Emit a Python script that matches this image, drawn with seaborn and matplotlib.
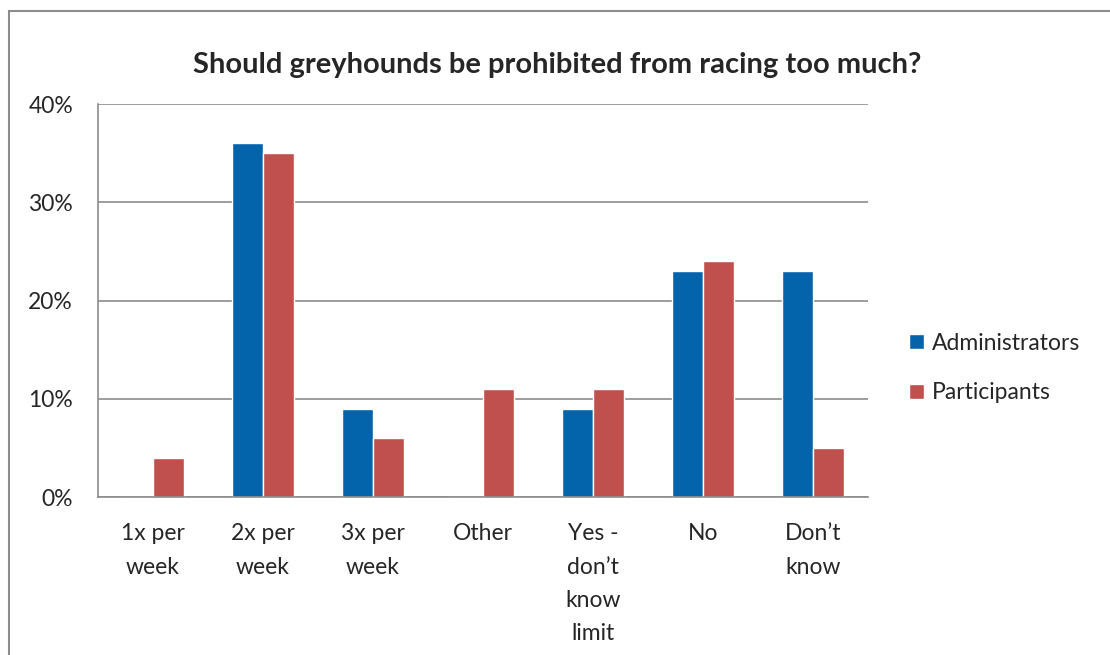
import matplotlib.pyplot as plt
import seaborn as sns
import numpy as np
import pandas as pd
from matplotlib.patches import Rectangle
from matplotlib.ticker import PercentFormatter

# Respuestas por grupo, en porcentaje

categorias = ["1x per\nweek", "2x per\nweek", "3x per\nweek", "Other",
              "Yes -\ndon\u2019t\nknow\nlimit", "No", "Don\u2019t\nknow"]
administradores = [0, 36, 9, 0, 9, 23, 23]
participantes = [4, 35, 6, 11, 11, 24, 5]
grupos = ["Administrators", "Participants"]
colores = ["#0364AC", "#C0504D"]

df = pd.DataFrame({
    "categoria": categorias * 2,
    "valor": administradores + participantes,
    "grupo": [grupos[0]] * len(categorias) + [grupos[1]] * len(categorias),
})

sns.set_style("white")
plt.rcParams["font.family"] = ["Lato", "DejaVu Sans"]

fig = plt.figure(figsize=(11.1, 6.55), dpi=100)
ax = fig.add_axes([0.0883, 0.2412, 0.6937, 0.6])

sns.barplot(data=df, x="categoria", y="valor", hue="grupo", order=categorias,
            hue_order=grupos, palette=colores, width=0.56, gap=0,
            saturation=1, ax=ax, legend=True)

ax.set_ylim(0, 40)
ax.set_yticks([0, 10, 20, 30, 40])
ax.yaxis.set_major_formatter(PercentFormatter(decimals=0))
ax.grid(axis="y", color="#8c8c8c", linewidth=1.2)
ax.set_axisbelow(True)
for lado in ["top", "right"]:
    ax.spines[lado].set_visible(False)
for lado in ["left", "bottom"]:
    ax.spines[lado].set_color("#8c8c8c")
    ax.spines[lado].set_linewidth(1.2)
ax.tick_params(axis="y", length=0, pad=18, labelsize=16.5)
ax.tick_params(axis="x", length=0, pad=19, labelsize=16.5)
for t in ax.get_xticklabels():
    t.set_linespacing(1.72)
    t.set_verticalalignment("top")
ax.set_xlabel("")
ax.set_ylabel("")

ax.legend(loc="center left", bbox_to_anchor=(909 / 1110, 1 - 368 / 655),
          bbox_transform=fig.transFigure, frameon=False,
          fontsize=16.5, handlelength=0.65, handleheight=0.65,
          handletextpad=0.35, labelspacing=1.25, borderaxespad=0,
          borderpad=0)

fig.suptitle("Should greyhounds be prohibited from racing too much?",
             x=0.502, y=0.90, va="center", fontsize=21, fontweight="bold")

# marco exterior del grafico
fig.patches.append(Rectangle((9 / 1110, -0.1), 1.2, 1 - 11 / 655 + 0.1,
                             transform=fig.transFigure, fill=False,
                             edgecolor="#8c8c8c", linewidth=1.5))

fig.savefig("out.png", dpi=100)
